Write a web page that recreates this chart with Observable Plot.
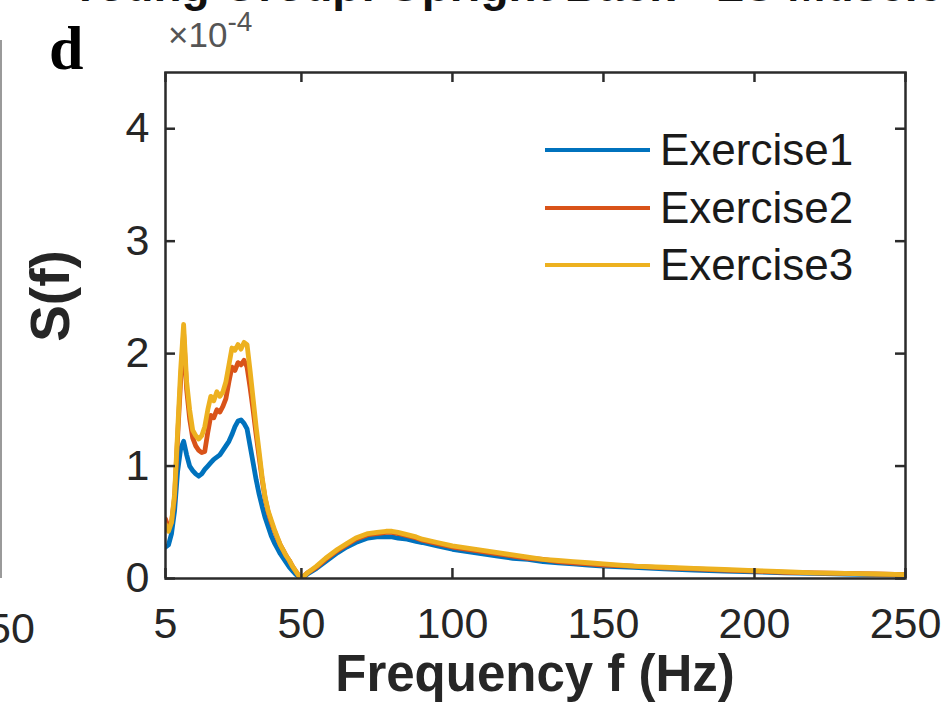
<!DOCTYPE html>
<html>
<head>
<meta charset="utf-8">
<script src="https://cdn.jsdelivr.net/npm/d3@7"></script>
<script src="https://cdn.jsdelivr.net/npm/@observablehq/plot@0.6"></script>
<style>
  html, body { margin: 0; padding: 0; background: #fff; }
  #wrap { position: relative; width: 947px; height: 723px; overflow: hidden; font-family: "Liberation Sans", Arial, sans-serif; color: #262626; }
  #wrap svg { position: absolute; left: 0; top: 0; }
  .ov { position: absolute; white-space: nowrap; line-height: 1; }
</style>
</head>
<body>
<div id="wrap"></div>
<script>
// Frequency (Hz)
const freq = [5,6,7,8,9,10,11,12,13,14,15,16,17,18,19,20,21,22,23,24,25,26,27,28,29,30,31,32,33,34,35,36,37,38,39,40,41,42,43,44,45,46,47,48,49,50,
  52,55,58,60,62,65,68,70,72,75,78,80,82,85,88,90,95,100,105,110,115,120,125,130,135,140,145,150,160,170,180,190,200,210,220,230,240,250];
// S(f) in units of 1e-4
const exercise1 = [0.28,0.3,0.4,0.6,0.95,1.15,1.22,1.1,1.0,0.96,0.93,0.91,0.93,0.97,1.0,1.03,1.06,1.08,1.1,1.14,1.18,1.22,1.28,1.35,1.4,1.41,1.38,1.33,1.18,1.03,0.88,0.75,0.64,0.54,0.46,0.38,0.32,0.27,0.22,0.18,0.14,0.1,0.07,0.04,0.02,0,
  0.04,0.09,0.15,0.19,0.23,0.28,0.32,0.34,0.36,0.37,0.37,0.37,0.36,0.35,0.33,0.32,0.29,0.26,0.24,0.22,0.2,0.18,0.17,0.15,0.14,0.13,0.12,0.11,0.1,0.085,0.075,0.065,0.06,0.05,0.045,0.04,0.035,0.03];
const exercise2 = [0.53,0.45,0.5,0.72,1.25,1.75,2.18,1.68,1.42,1.25,1.18,1.14,1.12,1.13,1.3,1.45,1.43,1.5,1.48,1.53,1.6,1.75,1.88,1.85,1.92,1.9,1.94,1.88,1.7,1.5,1.28,1.08,0.88,0.71,0.59,0.5,0.43,0.36,0.3,0.25,0.2,0.16,0.11,0.07,0.03,0,
  0.05,0.1,0.17,0.21,0.25,0.3,0.35,0.37,0.39,0.4,0.41,0.41,0.4,0.38,0.36,0.34,0.31,0.28,0.26,0.24,0.22,0.2,0.18,0.17,0.15,0.14,0.13,0.12,0.11,0.095,0.085,0.075,0.065,0.055,0.05,0.045,0.04,0.035];
const exercise3 = [0.48,0.42,0.5,0.75,1.3,1.85,2.26,1.75,1.5,1.32,1.27,1.24,1.27,1.35,1.5,1.62,1.58,1.66,1.62,1.66,1.75,1.9,2.05,2.03,2.08,2.04,2.1,2.08,1.85,1.6,1.35,1.13,0.9,0.72,0.6,0.52,0.44,0.37,0.3,0.25,0.2,0.16,0.11,0.07,0.03,0,
  0.05,0.11,0.18,0.22,0.26,0.31,0.36,0.38,0.4,0.41,0.42,0.42,0.41,0.39,0.37,0.35,0.32,0.29,0.27,0.25,0.23,0.21,0.19,0.17,0.16,0.15,0.14,0.13,0.11,0.1,0.09,0.08,0.07,0.06,0.05,0.045,0.04,0.035];

const seriesNames = ["Exercise1", "Exercise2", "Exercise3"];
const seriesColors = ["#0072BD", "#D95319", "#EDB120"];
const xTicks = [5, 50, 100, 150, 200, 250];
const yTicks = [0, 1, 2, 3, 4];

const allSeries = [exercise1, exercise2, exercise3];
const rows = [];
seriesNames.forEach((name, i) => {
  freq.forEach((f, j) => rows.push({f, s: allSeries[i][j], series: name}));
});

const W = 947, H = 723, mL = 165, mR = 42, mT = 72, mB = 145;
const innerW = W - mL - mR, innerH = H - mT - mB;
const tickLen = 10;
const axisColor = "#2b2b2b";

const plot = Plot.plot({
  width: W, height: H,
  marginLeft: mL, marginRight: mR, marginTop: mT, marginBottom: mB,
  style: {fontFamily: "'Liberation Sans', Arial, sans-serif", fontSize: "43px", color: "#262626", background: "#fff"},
  x: {domain: [5, 250]},
  y: {domain: [0, 4.5]},
  color: {domain: seriesNames, range: seriesColors},
  marks: [
    Plot.line(rows, {x: "f", y: "s", z: "series", stroke: "series", strokeWidth: 4.8, strokeLinejoin: "round", clip: true}),
    // inward ticks, bottom & top
    Plot.tickX(xTicks, {x: d => d, stroke: axisColor, strokeWidth: 2.5, insetTop: innerH - tickLen}),
    Plot.tickX(xTicks, {x: d => d, stroke: axisColor, strokeWidth: 2.5, insetBottom: innerH - tickLen}),
    // inward ticks, left & right
    Plot.tickY(yTicks, {y: d => d, stroke: axisColor, strokeWidth: 2.5, insetRight: innerW - tickLen}),
    Plot.tickY(yTicks, {y: d => d, stroke: axisColor, strokeWidth: 2.5, insetLeft: innerW - tickLen}),
    Plot.frame({stroke: axisColor, strokeWidth: 2.5}),
    Plot.axisX({ticks: xTicks, tickSize: 0, tickPadding: 29, label: null, tickFormat: d => String(d)}),
    Plot.axisY({ticks: yTicks, tickSize: 0, tickPadding: 16, label: null, tickFormat: d => String(d)})
  ]
});

const wrap = document.getElementById("wrap");
wrap.appendChild(plot);

function ov(html, css) {
  const d = document.createElement("div");
  d.className = "ov";
  d.innerHTML = html;
  Object.assign(d.style, css);
  wrap.appendChild(d);
  return d;
}

// Cut-off title of the figure above
ov("Young Group: Upright Back - LS Muscle", {left: "70px", top: "-38px", fontSize: "46px", fontWeight: "bold", color: "#111"});
// Neighbouring panel remnants
ov("", {left: "0px", top: "40px", width: "2px", height: "538px", background: "#9a9a9a"});
ov("50", {left: "-13px", top: "607px", fontSize: "43px", color: "#262626"});
// Panel letter
ov("d", {left: "49px", top: "17px", fontSize: "62px", fontWeight: "bold", fontFamily: "'Liberation Serif', 'Times New Roman', serif", color: "#000"});
// Exponent label
ov("×10<sup style='font-size:28px;vertical-align:0;position:relative;top:-16px'>-4</sup>", {left: "168px", top: "17px", fontSize: "35px", color: "#555"});
// Axis labels
ov("S(f)", {left: "50px", top: "296px", fontSize: "55px", fontWeight: "bold", color: "#262626", transform: "translate(-50%,-50%) rotate(-90deg)"});
ov("Frequency f (Hz)", {left: "535px", top: "648px", fontSize: "51px", fontWeight: "bold", color: "#262626", transform: "translateX(-50%)"});

// Legend
seriesNames.forEach((name, i) => {
  const top = 150 + i * 57.5;
  ov("", {left: "545px", top: (top - 2) + "px", width: "105px", height: "4px", background: seriesColors[i]});
  ov(name, {left: "660px", top: (top - 22) + "px", fontSize: "44px", color: "#1a1a1a"});
});
</script>
</body>
</html>
